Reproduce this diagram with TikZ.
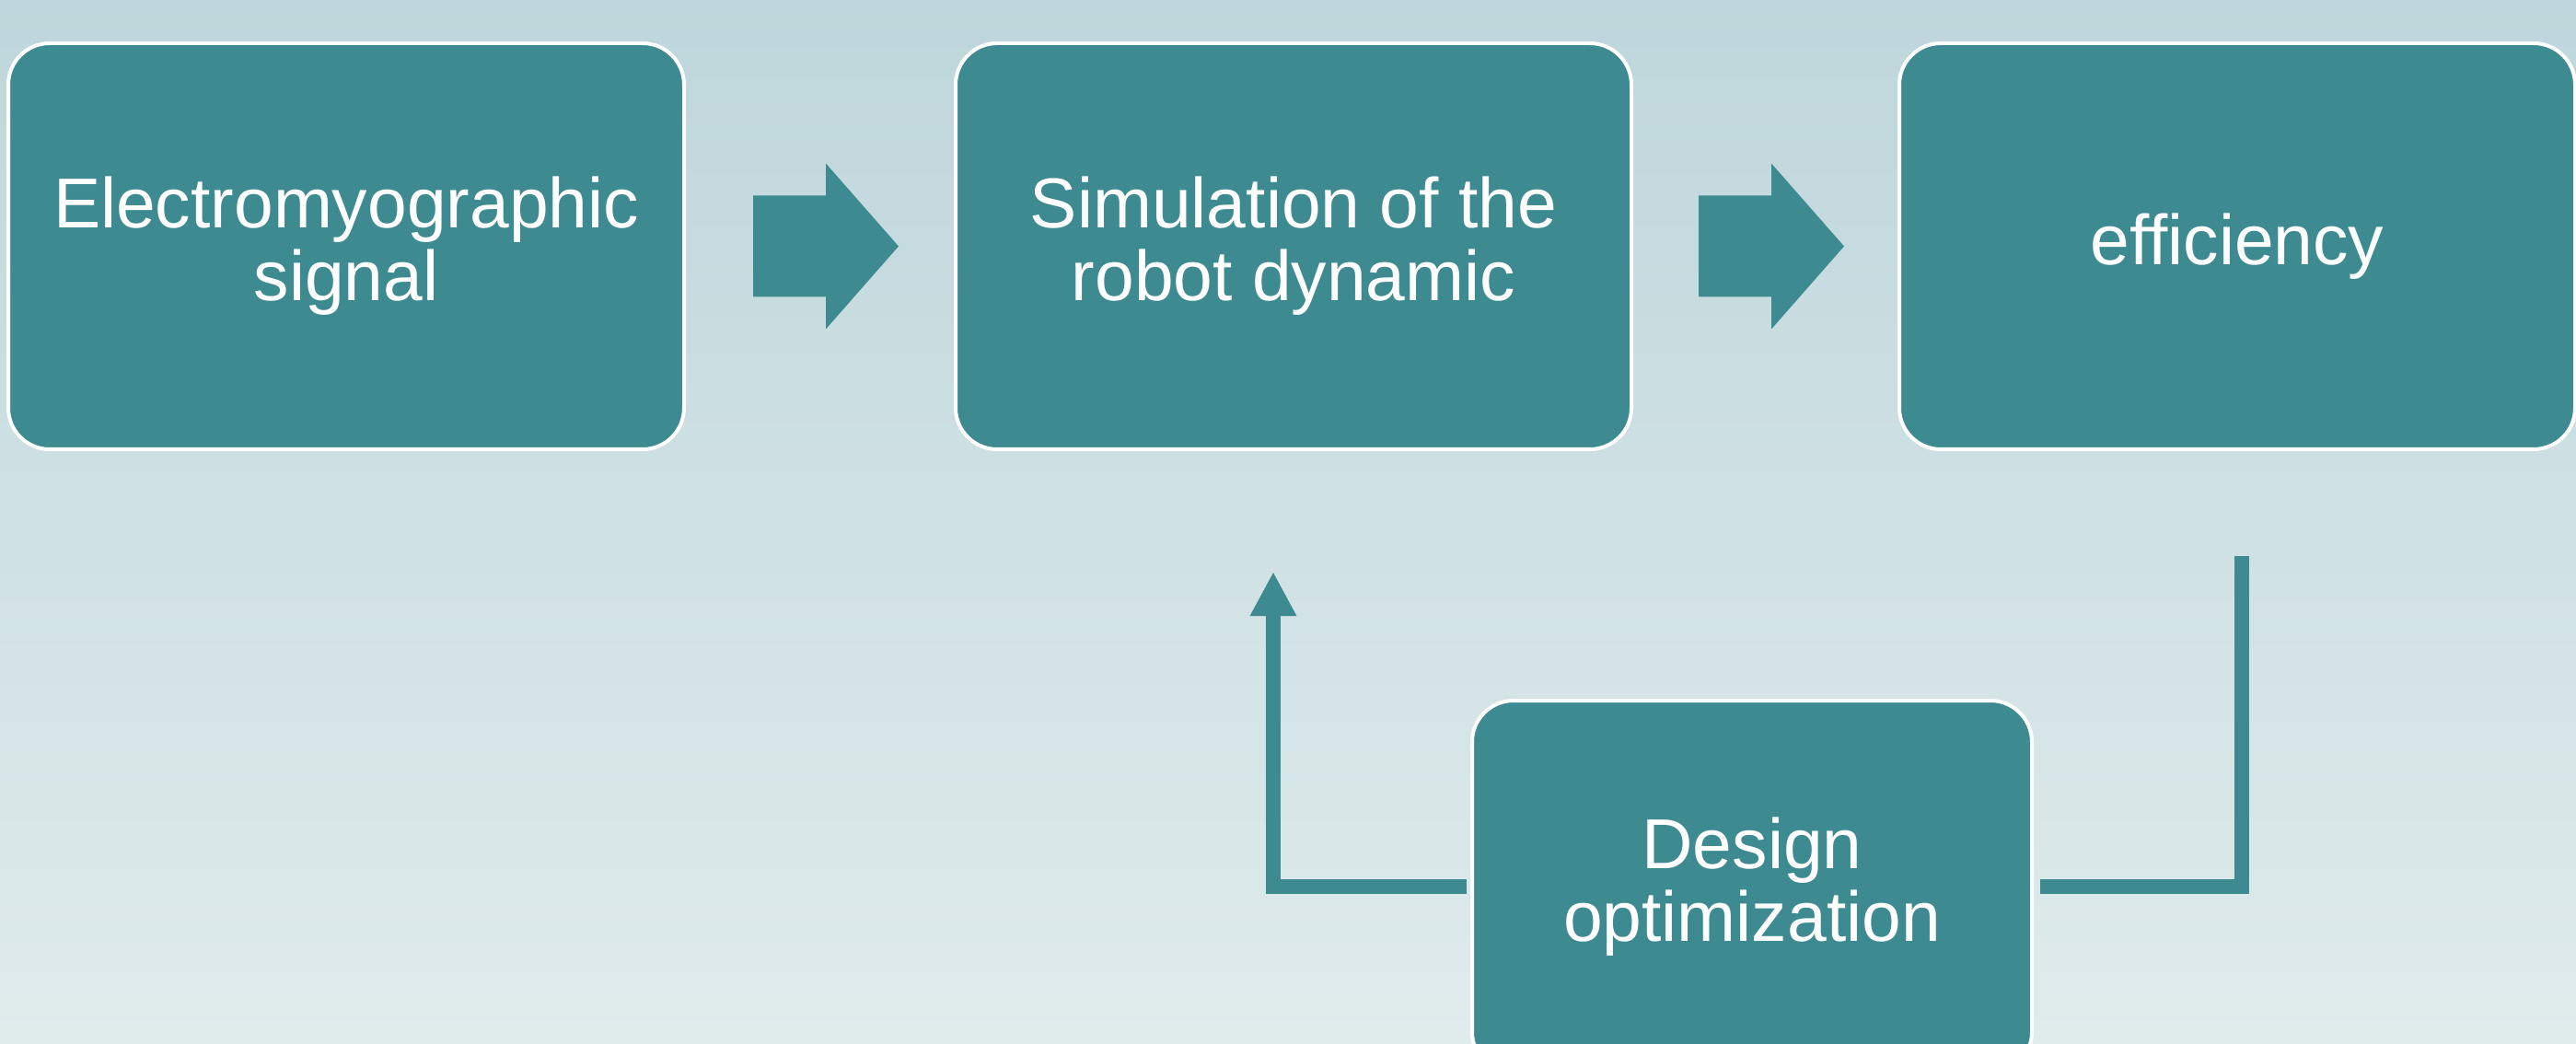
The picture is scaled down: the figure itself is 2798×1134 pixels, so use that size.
\documentclass[tikz,border=0pt]{standalone}
\usepackage{fontspec}
\setmainfont{Liberation Sans}
\usetikzlibrary{arrows.meta,calc}

\definecolor{bgtop}{RGB}{190,214,219}
\definecolor{bgbot}{RGB}{224,235,236}
\definecolor{stagefill}{RGB}{61,139,145}

\tikzset{
  stage/.style={draw=white, line width=1pt, fill=stagefill,
    rounded corners=11.25pt, inner sep=0pt, outer sep=0pt,
    minimum width=183.5pt, minimum height=110.25pt,
    align=center, text=white,
    font=\fontsize{19.2}{19.75}\selectfont},
  blockarrow/.style={fill=stagefill},
  loopline/.style={draw=stagefill, line width=4pt, line join=miter},
  looptip/.style={-{Triangle[width=11.75pt,length=12pt]}},
}

% draws a thick block arrow whose tail starts at the given point
\newcommand{\blockarrowat}[1]{%
  \fill[blockarrow] ($#1+(0,-55)$) -- ++(79,0) -- ++(0,-35)
    -- ++(79,90) -- ++(-79,90) -- ++(0,-35) -- ++(-79,0) -- cycle;}

\begin{document}
\begin{tikzpicture}[x=0.25pt,y=-0.25pt]
  % background
  \shade[top color=bgtop, bottom color=bgbot] (0,0) rectangle (2798,1134);
  \useasboundingbox (0,0) rectangle (2798,1134);
  \clip (0,0) rectangle (2798,1134);

  % process stages
  \node[stage] (emg) at (376,267.5) {Electromyographic\\signal};
  \node[stage] (sim) at (1405,267.5) {Simulation of the\\robot dynamic};
  \node[stage] (eff) at (2430,267.5) {efficiency};
  \node[stage, minimum width=152pt, minimum height=101.25pt]
    (des) at (1903,963.5) {Design\\optimization};

  % block arrows between the stages
  \blockarrowat{(emg.east)+(75,0)}
  \blockarrowat{(sim.east)+(73,0)}

  % feedback loop through the design optimization
  \coordinate (effout) at ($(eff.south)+(4.5,116)$);
  \coordinate (simin) at ($(sim.south)+(-22,133)$);
  \draw[loopline] (effout) |- ($(des.east)+(9,-1)$);
  \draw[loopline, looptip] ($(des.west)+(-6,-1)$) -| (simin);
\end{tikzpicture}
\end{document}
